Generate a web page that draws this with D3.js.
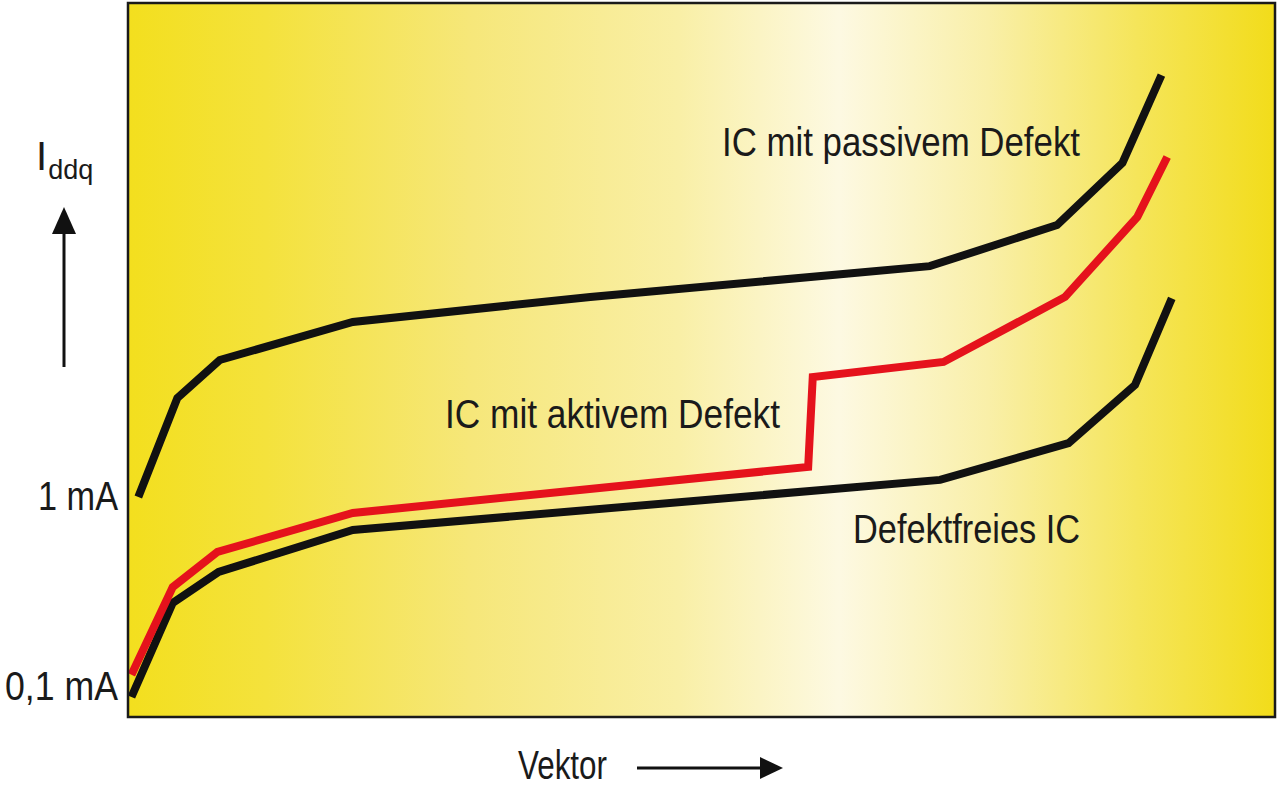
<!DOCTYPE html>
<html>
<head>
<meta charset="utf-8">
<script src="https://cdn.jsdelivr.net/npm/d3@7"></script>
<style>
  html, body { margin: 0; padding: 0; background: #fff; }
  svg { display: block; }
  text { font-family: "Liberation Sans", Arial, sans-serif; fill: #1a1a1a; }
</style>
</head>
<body>
<svg id="chart" width="1280" height="795"></svg>
<script>
// ---- data ----
const passiveX = [0.9, 4.3, 8.0, 19.6, 40.3, 69.9, 81.0, 86.7, 90.1];
const passiveI = [1.0, 3.32, 5.26, 8.34, 11.3, 16.4, 27.0, 57.3, 166];

const activeX = [0.3, 3.9, 7.8, 19.6, 59.3, 59.7, 71.1, 81.7, 88.0, 90.6];
const activeI = [0.116, 0.336, 0.514, 0.824, 1.44, 4.28, 5.14, 11.3, 29.8, 61.6];

const freeX = [0.3, 3.9, 7.9, 19.6, 70.8, 82.0, 87.8, 91.0];
const freeI = [0.0886, 0.277, 0.403, 0.670, 1.23, 1.92, 3.89, 11.1];

const yTickValues = [0.1, 1];
const yTickLabels = ["0,1 mA", "1 mA"];

const seriesNames = ["IC mit passivem Defekt", "IC mit aktivem Defekt", "Defektfreies IC"];
const xAxisTitle = "Vektor";

// ---- layout ----
const plot = { left: 128, top: 3, right: 1275, bottom: 717 };
const svg = d3.select("#chart");

const x = d3.scaleLinear().domain([0, 100]).range([plot.left, plot.right]);
const y = d3.scaleLog().domain([0.1, 1]).range([687, 497]);

// background gradient
const defs = svg.append("defs");
const grad = defs.append("linearGradient").attr("id", "bg")
  .attr("x1", "0%").attr("x2", "100%").attr("y1", "0%").attr("y2", "0%");
[
  [0, "#f3df1e"], [0.12, "#f4e23c"], [0.3, "#f6e77a"], [0.48, "#f9efa6"],
  [0.62, "#fdf9e2"], [0.75, "#f9efa8"], [0.88, "#f5e55a"], [1, "#f2dc1a"]
].forEach(([o, c]) => grad.append("stop").attr("offset", o).attr("stop-color", c));

svg.append("rect")
  .attr("x", plot.left).attr("y", plot.top)
  .attr("width", plot.right - plot.left).attr("height", plot.bottom - plot.top)
  .attr("fill", "url(#bg)");

// lines
const line = d3.line().x(d => x(d[0])).y(d => y(d[1]));
const zip = (a, b) => a.map((v, i) => [v, b[i]]);

const series = [
  { pts: zip(freeX, freeI), color: "#111" },
  { pts: zip(passiveX, passiveI), color: "#111" },
  { pts: zip(activeX, activeI), color: "#e5121c" }
];
svg.append("g").selectAll("path").data(series).join("path")
  .attr("d", d => line(d.pts))
  .attr("fill", "none")
  .attr("stroke", d => d.color)
  .attr("stroke-width", 8)
  .attr("stroke-linejoin", "miter")
  .attr("stroke-linecap", "butt");

// border
svg.append("rect")
  .attr("x", plot.left).attr("y", plot.top)
  .attr("width", plot.right - plot.left).attr("height", plot.bottom - plot.top)
  .attr("fill", "none").attr("stroke", "#1a1a1a").attr("stroke-width", 2.5);

// y axis labels
const yAxis = d3.axisLeft(y).tickValues(yTickValues)
  .tickFormat((d, i) => yTickLabels[i]).tickSize(0).tickPadding(10);
const gy = svg.append("g").attr("transform", `translate(${plot.left},0)`).call(yAxis);
gy.select(".domain").remove();
const tickWidths = [113, 80];
gy.selectAll("text")
  .attr("font-size", 40)
  .attr("fill", "#1a1a1a")
  .style("font-family", '"Liberation Sans", Arial, sans-serif')
  .attr("textLength", (d, i) => tickWidths[i])
  .attr("lengthAdjust", "spacingAndGlyphs");

// series labels
const labels = [
  { t: seriesNames[0], x: 722, y: 156, w: 358 },
  { t: seriesNames[1], x: 445, y: 428, w: 335 },
  { t: seriesNames[2], x: 853, y: 543, w: 227 }
];
svg.append("g").selectAll("text").data(labels).join("text")
  .attr("x", d => d.x).attr("y", d => d.y)
  .attr("font-size", 40)
  .attr("textLength", d => d.w)
  .attr("lengthAdjust", "spacingAndGlyphs")
  .text(d => d.t);

// x axis title + arrow
svg.append("text").attr("x", 518).attr("y", 779).attr("font-size", 40)
  .attr("textLength", 89).attr("lengthAdjust", "spacingAndGlyphs").text(xAxisTitle);
svg.append("line").attr("x1", 637).attr("x2", 764).attr("y1", 768).attr("y2", 768)
  .attr("stroke", "#111").attr("stroke-width", 3);
svg.append("path").attr("d", "M760,757 L783,768 L760,779 Z").attr("fill", "#111");

// y axis title I_ddq + arrow
const yt = svg.append("text").attr("x", 36).attr("y", 170).attr("font-size", 40);
yt.append("tspan").text("I");
yt.append("tspan").attr("font-size", 27).attr("dx", 1).attr("dy", 9).text("ddq");
svg.append("line").attr("x1", 64).attr("x2", 64).attr("y1", 367).attr("y2", 228)
  .attr("stroke", "#111").attr("stroke-width", 3);
svg.append("path").attr("d", "M52,234 L64,207 L76,234 Z").attr("fill", "#111");
</script>
</body>
</html>
